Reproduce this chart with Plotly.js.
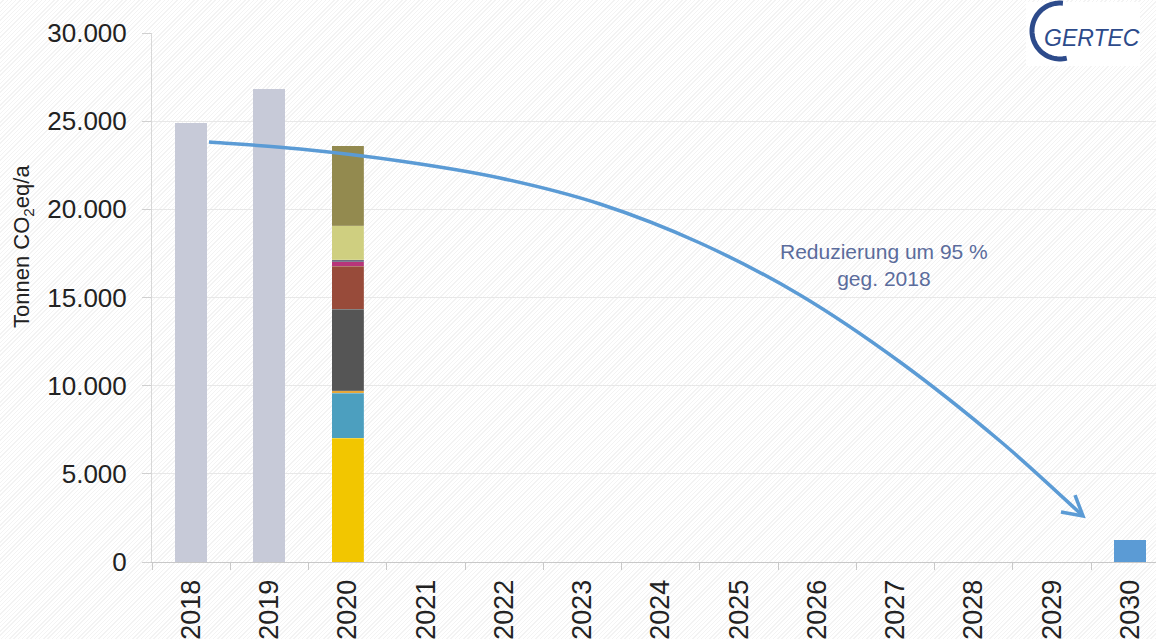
<!DOCTYPE html>
<html>
<head>
<meta charset="utf-8">
<script src="https://cdn.plot.ly/plotly-3.0.1.min.js"></script>
<style>
  html, body { margin: 0; padding: 0; background: #ffffff; }
  #chart {
    width: 1156px; height: 639px;
    background: repeating-linear-gradient(135deg, #ffffff 0px, #ffffff 2px, #f3f3f3 2px, #f3f3f3 3px);
  }
</style>
</head>
<body>
<div id="chart"></div>
<script>
// ---- data ----
const years = ['2018','2019','2020','2021','2022','2023','2024','2025','2026','2027','2028','2029','2030'];

const historyYears = ['2018', '2019'];
const historyValues = [24900, 26800];

const statusYear = '2020';
const segmentNames = ['Segment 1','Segment 2','Segment 3','Segment 4','Segment 5','Segment 6','Segment 7','Segment 8','Segment 9'];
const segmentValues = [7015, 2550, 150, 4630, 2440, 245, 115, 1930, 4520];
const segmentColors = ['#f2c600','#4c9fbf','#e8a83a','#555555','#984b3a','#b8357a','#6d6d80','#cfcf80','#938a4f'];

const targetYear = '2030';
const targetValue = 1220;

const yTickVals = [0, 5000, 10000, 15000, 20000, 25000, 30000];
const yTickText = ['0', '5.000', '10.000', '15.000', '20.000', '25.000', '30.000'];

// ---- geometry helpers (pixel -> paper) ----
const W = 1156, H = 639;
const M = { l: 152, r: 0, t: 33, b: 77 };
const PW = W - M.l - M.r, PH = H - M.t - M.b;
const px = x => (x - M.l) / PW;
const py = y => (H - M.b - y) / PH;
const pp = p => px(p[0]).toFixed(5) + ',' + py(p[1]).toFixed(5);

const barWidth = 0.41;
const traces = [];

traces.push({
  type: 'bar', x: historyYears, y: historyValues, width: barWidth,
  marker: { color: '#c7cad8' }, showlegend: false
});
segmentValues.forEach((v, i) => {
  traces.push({
    type: 'bar', x: [statusYear], y: [v], width: barWidth, name: segmentNames[i],
    marker: { color: segmentColors[i], line: { color: 'rgba(255,255,255,0.25)', width: 0.6 } },
    showlegend: false
  });
});
traces.push({
  type: 'bar', x: [targetYear], y: [targetValue], width: barWidth,
  marker: { color: '#5b9bd5' }, showlegend: false
});

// curved reduction arrow (decoration, pixel space), smoothed with Catmull-Rom
const arrowPts = [[209,142],[300,149],[400,161],[500,178],[600,204],[700,243],[800,295],[900,362],[1000,441],[1082,515]];
function smoothPath(pts) {
  let d = 'M ' + pp(pts[0]);
  for (let i = 0; i < pts.length - 1; i++) {
    const p0 = pts[Math.max(i - 1, 0)], p1 = pts[i], p2 = pts[i + 1], p3 = pts[Math.min(i + 2, pts.length - 1)];
    const c1 = [p1[0] + (p2[0] - p0[0]) / 6, p1[1] + (p2[1] - p0[1]) / 6];
    const c2 = [p2[0] - (p3[0] - p1[0]) / 6, p2[1] - (p3[1] - p1[1]) / 6];
    d += ' C ' + pp(c1) + ' ' + pp(c2) + ' ' + pp(p2);
  }
  return d;
}
const arrowPath = smoothPath(arrowPts);
const headPath = 'M ' + pp([1061, 512]) + ' L ' + pp([1083, 516]) + ' L ' + pp([1075, 495]);

// logo arc
const cx = 1060, cy = 31, rr = 28;
let arc = [];
for (let a = 84; a <= 285; a += 4) {
  const r = a * Math.PI / 180;
  arc.push([cx + rr * Math.cos(r), cy - rr * Math.sin(r)]);
}
const logoPath = 'M ' + arc.map(pp).join(' L ');

const layout = {
  width: W, height: H,
  margin: M,
  paper_bgcolor: 'rgba(0,0,0,0)',
  plot_bgcolor: 'rgba(0,0,0,0)',
  barmode: 'stack',
  showlegend: false,
  font: { family: 'Liberation Sans, Arial, sans-serif', color: '#222222' },
  xaxis: {
    type: 'category',
    categoryorder: 'array', categoryarray: years,
    range: [-0.5, 12.33],
    tickmode: 'array', tickvals: years, ticktext: years,
    tickangle: -90,
    tickfont: { size: 27, color: '#222222' },
    ticks: 'outside', tickson: 'boundaries', ticklen: 7, tickcolor: '#c8c8c8', tickwidth: 1,
    ticklabelstandoff: 6,
    showline: true, linecolor: '#c8c8c8', linewidth: 1,
    showgrid: false, zeroline: false, fixedrange: true
  },
  yaxis: {
    range: [0, 30000],
    tickmode: 'array', tickvals: yTickVals, ticktext: yTickText,
    tickfont: { size: 26, color: '#222222' },
    ticks: 'outside', ticklen: 9, tickcolor: '#d0d0d0',
    ticklabelstandoff: 10,
    showline: true, linecolor: '#d8d8d8', linewidth: 1,
    showgrid: true, gridcolor: '#e8e8e8', gridwidth: 1,
    zeroline: false, fixedrange: true
  },
  shapes: [
    { type: 'path', xref: 'paper', yref: 'paper', path: arrowPath, line: { color: '#5b9bd5', width: 3.5 }, layer: 'above' },
    { type: 'path', xref: 'paper', yref: 'paper', path: headPath, line: { color: '#5b9bd5', width: 3.5 }, layer: 'above' },
    { type: 'rect', xref: 'paper', yref: 'paper', x0: px(1026), x1: px(1140), y0: py(66), y1: py(2), fillcolor: '#ffffff', line: { width: 0 }, layer: 'above' },
    { type: 'path', xref: 'paper', yref: 'paper', path: logoPath, line: { color: '#2d4b8b', width: 5 }, layer: 'above' }
  ],
  annotations: [
    { xref: 'x', yref: 'paper', x: statusYear, y: py(104), xanchor: 'center', yanchor: 'middle',
      text: 'Status<br>Quo', showarrow: false, font: { size: 21, color: '#c55a5a' }, align: 'center' },
    { xref: 'paper', yref: 'paper', x: px(884), y: py(265), xanchor: 'center', yanchor: 'middle',
      text: 'Reduzierung um 95 %<br>geg. 2018', showarrow: false, font: { size: 21, color: '#5b6c9c' }, align: 'center' },
    { xref: 'paper', yref: 'paper', x: px(23), y: py(247), xanchor: 'center', yanchor: 'middle',
      text: 'Tonnen CO<sub>2</sub>eq/a', textangle: -90, showarrow: false, font: { size: 22, color: '#222222' } },
    { xref: 'paper', yref: 'paper', x: px(1092), y: py(38), xanchor: 'center', yanchor: 'middle',
      text: 'GERTEC', showarrow: false, font: { size: 23, color: '#2d4b8b', style: 'italic' } }
  ]
};

Plotly.newPlot('chart', traces, layout, { displayModeBar: false, staticPlot: true });
</script>
</body>
</html>
